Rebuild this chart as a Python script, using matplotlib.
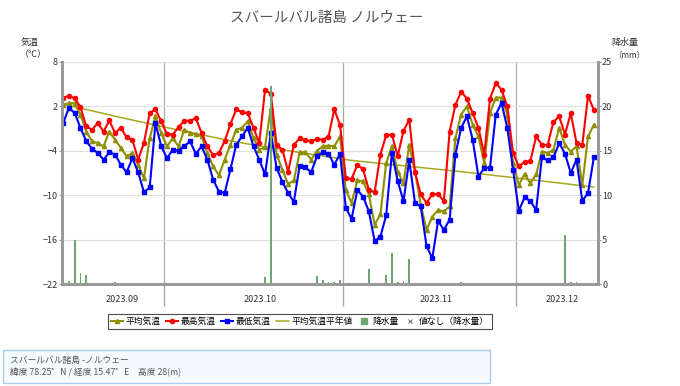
import numpy as np
import matplotlib
matplotlib.use('Agg')
import matplotlib.pyplot as plt
from matplotlib.lines import Line2D
from matplotlib.patches import Rectangle

plt.rcParams['font.family'] = ['Noto Sans CJK JP', 'DejaVu Sans']

# 日別データ (day 0 = 2023-09-13)
tmax = [3.2, 3.4, 3.1, 1.9, -0.7, -1.15, -0.25, -1.4, 0.1, -1.6,
        -0.9, -2.2, -2.5, -5.2, -2.95, 1.1, 1.6, 0.0, -1.75, -1.8,
        -0.8, 0.06, 0.06, 0.4, -1.6, -3.4, -4.6, -4.3, -2.7, -0.4,
        1.6, 1.2, 1.1, -0.9, -2.95, 4.25, 3.7, -3.2, -3.85, -6.8,
        -3.2, -2.3, -2.6, -2.7, -2.4, -2.5, -2.1, 1.6, -0.5, -7.7,
        -7.8, -5.9, -6.5, -9.3, -9.6, -4.5, -1.9, -1.8, -4.75, -1.3,
        0.2, -6.9, -9.9, -11.05, -9.85, -9.85, -10.8, -1.4, 2.2, 4.0,
        3.05, 1.1, -0.9, -4.5, 3.05, 5.15, 4.25, 2.0, -4.3, -6.1,
        -5.5, -5.4, -2.05, -3.2, -3.2, -0.1, 0.65, -1.8, 1.1, -2.95,
        -3.2, 3.4, 1.55]
tavg = [2.2, 2.45, 2.4, 0.9, -1.4, -2.7, -2.95, -3.4, -1.4, -2.5,
        -3.6, -4.75, -4.3, -5.9, -7.7, -2.3, 0.65, -1.6, -3.4, -2.3,
        -3.4, -1.15, -1.6, -1.75, -2.05, -4.3, -6.1, -7.3, -5.2, -3.2,
        -1.15, -0.9, 0.0, -2.3, -3.85, -3.5, 1.8, -4.5, -6.55, -8.5,
        -8.0, -4.2, -4.2, -5.2, -4.0, -3.4, -3.3, -3.4, -2.05, -9.3,
        -11.05, -8.0, -8.1, -9.9, -14.0, -12.6, -5.65, -3.4, -6.8, -8.4,
        -3.2, -6.8, -11.3, -14.7, -12.9, -12.0, -12.2, -11.5, -2.3, 0.9,
        2.0, -0.5, -2.05, -5.65, 1.1, 3.2, 3.2, 0.9, -5.65, -8.6,
        -7.15, -8.4, -7.2, -4.1, -4.3, -3.85, -0.9, -3.2, -4.1, -3.4,
        -8.6, -2.05, -0.5]
tmin = [-0.25, 1.8, 1.1, -0.9, -2.7, -3.7, -4.3, -5.2, -4.2, -4.5,
        -5.9, -6.9, -5.0, -6.9, -9.6, -8.95, -0.25, -3.4, -5.0, -3.85,
        -4.0, -3.4, -2.7, -4.4, -3.4, -5.2, -7.9, -9.5, -9.7, -6.5,
        -3.2, -2.05, -0.9, -3.4, -5.2, -7.2, -1.6, -6.3, -8.2, -9.7,
        -10.9, -6.0, -6.25, -6.9, -4.75, -4.2, -4.4, -5.9, -4.4, -11.7,
        -13.2, -9.3, -10.2, -12.2, -16.2, -15.6, -12.7, -4.3, -8.1, -10.8,
        -5.3, -11.05, -11.5, -16.9, -18.5, -13.45, -14.7, -13.3, -4.5, -0.9,
        0.65, -2.5, -7.5, -6.3, -6.3, 0.9, 2.45, -0.9, -6.55, -12.1,
        -10.3, -10.8, -12.0, -4.9, -5.3, -4.9, -2.95, -4.4, -7.0, -5.2,
        -10.75, -9.7, -4.9]

# 平年値 (読み取った点)
normal_days = [0, 10, 20, 30, 40, 50, 60, 70, 80, 92]
normal_vals = [2.3, 0.5, -1.2, -2.8, -4.1, -5.3, -6.1, -6.9, -7.8, -8.9]

# 降水量
rain_days = [1, 2, 3, 4, 8, 9, 16, 35, 36, 37, 44, 45, 46, 47, 48, 51,
             53, 56, 57, 58, 59, 60, 69, 86, 87, 88, 89, 91]
rain_mm = [0.3, 5.0, 1.2, 1.0, 0.1, 0.2, 0.1, 0.8, 22.3, 0.1, 0.9, 0.5,
           0.2, 0.2, 0.5, 0.1, 1.65, 1.0, 3.5, 0.2, 0.3, 2.8, 0.2, 0.1,
           5.5, 0.2, 0.2, 0.1]

month_bounds = [17.5, 48.5, 78.5]
month_labels = ['2023.09', '2023.10', '2023.11', '2023.12']
xmin, xmax = -0.2, 92.7

x = np.arange(len(tmax))

fig = plt.figure(figsize=(6.8, 3.86), dpi=100)
ax = fig.add_axes([0.0912, 0.2642, 0.788, 0.5752])
ax2 = ax.twinx()

grey = '#999999'
olive = '#8f8f00'
lw, ms = 1.5, 3.0

# 降水量 (右軸)
ax2.bar(rain_days, rain_mm, width=0.3, color='#6fa86f', zorder=1)
ax2.set_ylim(0, 25)
ax2.set_yticks([0, 5, 10, 15, 20, 25])

# 気温 (左軸)
ax.plot(normal_days, normal_vals, color='#a8a820', lw=1.1, zorder=2)
ax.plot(x, tavg, color=olive, lw=lw, marker='^', ms=ms, zorder=3)
ax.plot(x, tmax, color='#ff0000', lw=lw, marker='o', ms=ms, zorder=4)
ax.plot(x, tmin, color='#0000ff', lw=lw, marker='s', ms=ms, zorder=5)

ax.set_ylim(-22, 8)
ax.set_yticks([8, 2, -4, -10, -16, -22])
ax.set_xlim(xmin, xmax)
ax.yaxis.grid(True, color='#e0e0e0', lw=0.9)
ax.set_axisbelow(True)

# 月の区切り
ax.set_xticks(month_bounds)
ax.set_xticklabels([])
ax.tick_params(axis='x', which='major', length=16, width=1, color='#aaaaaa', direction='out')
for b in month_bounds:
    ax.axvline(b, color='#aaaaaa', lw=0.9, zorder=0.5)
edges = [xmin + 0.7] + month_bounds + [xmax - 0.7]
centers = [(edges[i] + edges[i + 1]) / 2 + 1.2 for i in range(len(month_labels))]
ax.set_xticks(centers, minor=True)
ax.set_xticklabels(month_labels, minor=True)
ax.tick_params(axis='x', which='minor', length=0, pad=8, labelsize=6.5, labelcolor='#333333')

for a in (ax, ax2):
    a.tick_params(axis='y', length=2, labelsize=6.5, labelcolor='#333333', color=grey, pad=1)
    for s in ['left', 'right', 'bottom']:
        a.spines[s].set_color(grey)
        a.spines[s].set_linewidth(2)
    a.spines['top'].set_visible(False)

fig.text(0.48, 0.953, 'スバールバル諸島 ノルウェー', ha='center', va='center', fontsize=10.5, color='#555555')
fig.text(0.043, 0.891, '気温', ha='center', va='center', fontsize=6.5, color='#333333')
fig.text(0.049, 0.858, '（℃）', ha='center', va='center', fontsize=6.5, color='#333333')
fig.text(0.919, 0.891, '降水量', ha='center', va='center', fontsize=6.5, color='#333333')
fig.text(0.926, 0.858, '（mm）', ha='center', va='center', fontsize=6, color='#333333')

handles = [
    Line2D([], [], color=olive, lw=lw, marker='^', ms=ms),
    Line2D([], [], color='#ff0000', lw=lw, marker='o', ms=ms),
    Line2D([], [], color='#0000ff', lw=lw, marker='s', ms=ms),
    Line2D([], [], color='#a8a820', lw=1.1),
    Line2D([], [], color='#6fa86f', lw=0, marker='s', ms=5),
    Line2D([], [], color='#777777', lw=0, marker='x', ms=2.5, mew=0.8),
]
labels = ['平均気温', '最高気温', '最低気温', '平均気温平年値', '降水量', '値なし（降水量）']
leg = fig.legend(handles, labels, loc='center', bbox_to_anchor=(0.441, 0.167), ncol=6,
                 fontsize=6.3, frameon=True, fancybox=False, edgecolor='#222222',
                 handlelength=1.4, handletextpad=0.3, columnspacing=0.6,
                 borderpad=0.35, borderaxespad=0)
leg.get_frame().set_linewidth(0.8)

fig.patches.append(Rectangle((0.0044, 0.008), 0.716, 0.0855, transform=fig.transFigure,
                             facecolor='#f5faff', edgecolor='#aaccee', lw=1))
fig.text(0.0147, 0.067, 'スバールバル諸島 -ノルウェー', fontsize=6.3, color='#555555', va='center')
fig.text(0.0147, 0.035, '緯度 78.25゜N / 経度 15.47゜E　高度 28(m)', fontsize=6.3, color='#555555', va='center')

fig.savefig('out.png', dpi=100)
